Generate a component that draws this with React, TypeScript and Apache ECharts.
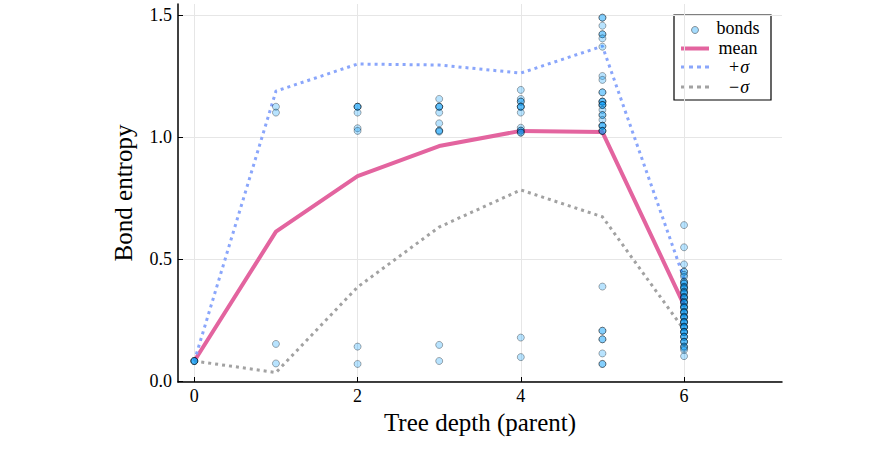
import React, { useEffect, useRef } from "react";
import * as echarts from "echarts";

// Tree depth of the parent node for each group of bonds
const depths = [0, 1, 2, 3, 4, 5, 6];

// Bond entropies observed at each depth (repeated values are symmetric bonds)
const bondsDepth0 = [0.082, 0.082, 0.082, 0.082];
const bondsDepth1 = [1.124, 1.1, 0.152, 0.072];
const bondsDepth2 = [1.124, 1.124, 1.124, 1.1, 1.036, 1.025, 0.141, 0.07];
const bondsDepth3 = [1.156, 1.124, 1.124, 1.124, 1.1, 1.056, 1.026, 1.026, 1.022, 0.148, 0.082];
const bondsDepth4 = [
  1.193, 1.156, 1.145, 1.145, 1.124, 1.124, 1.124, 1.1, 1.038, 1.026, 1.026, 1.018, 1.018, 0.178, 0.098,
];
const bondsDepth5 = [
  1.489, 1.489, 1.456, 1.421, 1.421, 1.404, 1.37, 1.25, 1.234, 1.183, 1.183, 1.145, 1.145, 1.145,
  1.131, 1.131, 1.131, 1.111, 1.09, 1.09, 1.07, 1.046, 1.046, 1.046, 1.025, 1.025, 1.025,
  0.387, 0.206, 0.206, 0.171, 0.171, 0.113, 0.07, 0.07,
];
const bondsDepth6 = [
  0.639, 0.548, 0.478, 0.448, 0.448, 0.435, 0.427, 0.407, 0.407, 0.4, 0.4, 0.386, 0.386, 0.38,
  0.38, 0.366, 0.366, 0.36, 0.36, 0.345, 0.345, 0.34, 0.34, 0.325, 0.325, 0.32, 0.32, 0.305,
  0.305, 0.3, 0.3, 0.284, 0.284, 0.28, 0.28, 0.264, 0.264, 0.26, 0.26, 0.243, 0.243, 0.24, 0.24,
  0.223, 0.223, 0.22, 0.22, 0.202, 0.202, 0.2, 0.2, 0.182, 0.182, 0.18, 0.161, 0.161, 0.16,
  0.141, 0.141, 0.135, 0.127, 0.102,
];
const bondsByDepth = [bondsDepth0, bondsDepth1, bondsDepth2, bondsDepth3, bondsDepth4, bondsDepth5, bondsDepth6];

// Mean and mean ± one standard deviation per depth
const meanEntropy = [0.082, 0.612, 0.84, 0.963, 1.025, 1.02, 0.311];
const plusSigma = [0.082, 1.188, 1.299, 1.295, 1.262, 1.372, 0.42];
const minusSigma = [0.082, 0.035, 0.385, 0.631, 0.783, 0.673, 0.21];

// Tick positions
const xTicks = [0, 2, 4, 6];
const yTicks = [0, 0.5, 1.0, 1.5];

const FONT = "'Liberation Serif', 'DejaVu Serif', serif";
const PINK = "#e3649f";
const BLUE_DOT = "#8aa6fb";
const GRAY_DOT = "#a2a2a2";

export default function App() {
  const ref = useRef<HTMLDivElement>(null);

  useEffect(() => {
    if (!ref.current) return;
    const chart = echarts.init(ref.current, undefined, { renderer: "svg" });

    const bondPoints: number[][] = [];
    bondsByDepth.forEach((vals, i) => {
      vals.forEach((v) => bondPoints.push([depths[i], v]));
    });
    const pairs = (ys: number[]) => ys.map((y, i) => [depths[i], y]);

    const lineSeries = (name: string, ys: number[], color: string, width: number, dashed: boolean) => ({
      name,
      type: "line",
      data: pairs(ys),
      showSymbol: false,
      symbol: "none",
      z: 2,
      lineStyle: {
        color,
        width,
        type: dashed ? [3, 4] : "solid",
        cap: "butt",
        join: "round",
      },
    });

    // Legend box (top right, inside the plot area)
    const legend = {
      type: "group",
      z: 100,
      children: [
        {
          type: "rect",
          shape: { x: 674, y: 15, width: 97, height: 85 },
          style: { fill: "#ffffff", stroke: "#000000", lineWidth: 1.2 },
        },
        {
          type: "circle",
          shape: { cx: 695, cy: 30, r: 3.5 },
          style: { fill: "rgba(0,154,250,0.35)", stroke: "rgba(0,0,0,0.4)", lineWidth: 1 },
        },
        {
          type: "line",
          shape: { x1: 681, y1: 48.5, x2: 709, y2: 48.5 },
          style: { stroke: PINK, lineWidth: 4 },
        },
        {
          type: "line",
          shape: { x1: 681, y1: 67, x2: 709, y2: 67 },
          style: { stroke: BLUE_DOT, lineWidth: 3, lineDash: [4, 4] },
        },
        {
          type: "line",
          shape: { x1: 681, y1: 87, x2: 709, y2: 87 },
          style: { stroke: GRAY_DOT, lineWidth: 3, lineDash: [4, 4] },
        },
        ...[
          { t: "bonds", y: 28 },
          { t: "mean", y: 47.5 },
        ].map((e) => ({
          type: "text",
          style: {
            x: 738,
            y: e.y,
            text: e.t,
            font: `18px ${FONT}`,
            fill: "#000",
            align: "center",
            verticalAlign: "middle",
          },
        })),
        ...[
          { s: "+", y: 67 },
          { s: "\u2212", y: 87 },
        ].map((e) => ({
          type: "text",
          style: {
            x: 739,
            y: e.y,
            text: `{a|${e.s}}{b|σ}`,
            align: "center",
            verticalAlign: "middle",
            rich: {
              a: { fontFamily: FONT, fontSize: 18, fill: "#000", padding: [0, 1, 0, 0] },
              b: { fontFamily: FONT, fontSize: 18, fontStyle: "italic", fill: "#000" },
            },
          },
        })),
      ],
    };

    chart.setOption({
      animation: false,
      backgroundColor: "#ffffff",
      textStyle: { fontFamily: FONT },
      grid: { left: 178, right: 111, top: 4, bottom: 93, containLabel: false },
      xAxis: {
        type: "value",
        min: -0.2,
        max: 7.2,
        name: "Tree depth (parent)",
        nameLocation: "middle",
        nameGap: 23,
        nameTextStyle: { fontFamily: FONT, fontSize: 25, color: "#000" },
        axisLine: { show: true, onZero: false, lineStyle: { color: "#000", width: 1.5 } },
        axisTick: { show: true, inside: true, length: 5, customValues: xTicks, lineStyle: { color: "#000" } },
        axisLabel: {
          customValues: xTicks,
          margin: 5,
          fontFamily: FONT,
          fontSize: 18,
          color: "#000",
          formatter: (v: number) => String(v),
        },
        splitLine: { show: true, lineStyle: { color: "#e6e6e6", width: 1 } },
      },
      yAxis: {
        type: "value",
        min: -0.004,
        max: 1.545,
        name: "Bond entropy",
        nameLocation: "middle",
        nameGap: 42,
        nameTextStyle: { fontFamily: FONT, fontSize: 25, color: "#000" },
        axisLine: { show: true, onZero: false, lineStyle: { color: "#000", width: 1.5 } },
        axisTick: { show: true, inside: true, length: 5, customValues: yTicks, lineStyle: { color: "#000" } },
        axisLabel: {
          customValues: yTicks,
          margin: 6,
          fontFamily: FONT,
          fontSize: 18,
          color: "#000",
          formatter: (v: number) => v.toFixed(1),
        },
        splitLine: { show: true, lineStyle: { color: "#e6e6e6", width: 1 } },
      },
      series: [
        {
          name: "bonds",
          type: "scatter",
          data: bondPoints,
          symbol: "circle",
          symbolSize: 7,
          z: 3,
          itemStyle: {
            color: "rgba(0,154,250,0.35)",
            borderColor: "rgba(0,0,0,0.4)",
            borderWidth: 1,
          },
        },
        lineSeries("mean", meanEntropy, PINK, 4, false),
        lineSeries("+σ", plusSigma, BLUE_DOT, 3, true),
        lineSeries("−σ", minusSigma, GRAY_DOT, 3, true),
      ],
      graphic: [legend],
    });

    return () => chart.dispose();
  }, []);

  return (
    <div
      ref={ref}
      style={{ position: "fixed", left: 0, top: 0, width: 893, height: 475 }}
    />
  );
}
